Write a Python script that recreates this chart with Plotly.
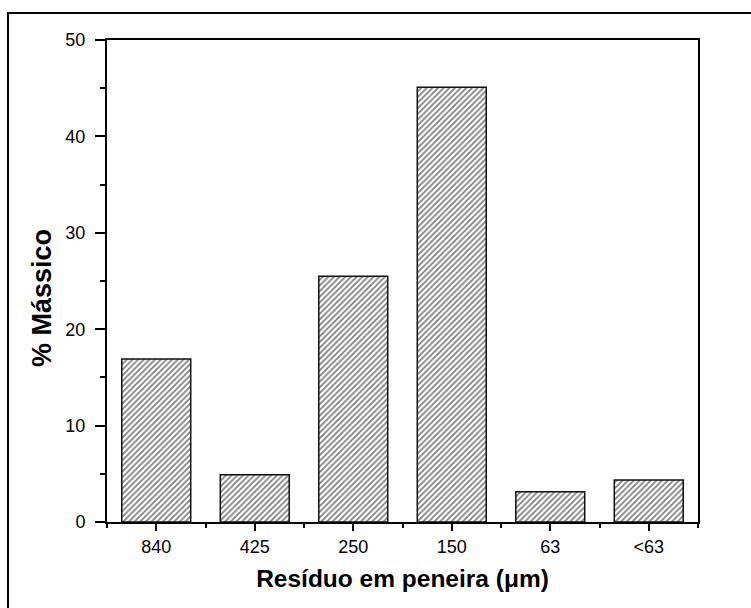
import plotly.graph_objects as go

categories = ["840", "425", "250", "150", "63", "<63"]
values = [16.9, 4.9, 25.5, 45.1, 3.15, 4.35]
positions = list(range(len(categories)))
y_ticks = [0, 10, 20, 30, 40, 50]

W, H = 751, 608
L, R, T, B = 107, 53, 40, 86
PW, PH = W - L - R, H - T - B

fig = go.Figure()
fig.add_trace(go.Bar(
    x=positions, y=values, width=0.7,
    marker=dict(color="white",
                line=dict(color="#111", width=1.5),
                pattern=dict(shape="/", size=4, solidity=0.45,
                             fgcolor="black", bgcolor="white")),
))

font = "Liberation Sans, Arial, sans-serif"
fig.update_layout(
    width=W, height=H, margin=dict(l=L, r=R, t=T, b=B),
    paper_bgcolor="white", plot_bgcolor="white", showlegend=False,
    font=dict(family=font, color="black", size=18),
    bargap=0.3,
)
fig.update_xaxes(
    range=[-0.5, 5.5], tickmode="array", tickvals=positions, ticktext=categories,
    showline=True, linecolor="black", linewidth=2, mirror=True,
    ticks="outside", ticklen=7, tickwidth=2, tickcolor="black",
    minor=dict(tickmode="linear", tick0=-0.5, dtick=1, ticks="outside", ticklen=4,
               tickwidth=2, tickcolor="black", showgrid=False),
    showgrid=False, zeroline=False,
    tickfont=dict(size=18), ticklabelstandoff=0,
    title=dict(text="<b>Resíduo em peneira (μm)</b>", font=dict(size=24.5), standoff=14),
)
fig.update_yaxes(
    range=[0, 50], tickmode="array", tickvals=y_ticks,
    showline=True, linecolor="black", linewidth=2, mirror=True,
    ticks="outside", ticklen=10, tickwidth=2, tickcolor="black",
    minor=dict(tickmode="linear", tick0=0, dtick=5, ticks="outside", ticklen=5,
               tickwidth=2, tickcolor="black", showgrid=False),
    showgrid=False, zeroline=False,
    tickfont=dict(size=18), ticklabelstandoff=6,
)
fig.add_annotation(
    text="<b>% Mássico</b>", textangle=-90, showarrow=False,
    xref="paper", yref="paper", x=(42 - L) / PW, y=(H - B - 298) / PH,
    xanchor="center", yanchor="middle", font=dict(size=27, family=font, color="black"),
)
# outer frame (only left and top edges visible in the crop)
fig.add_shape(type="rect", xref="paper", yref="paper",
              x0=(8 - L) / PW, x1=2,
              y0=-2, y1=(H - B - 13) / PH,
              line=dict(color="black", width=2), fillcolor="rgba(0,0,0,0)", layer="below")

fig.write_html("out.html")
